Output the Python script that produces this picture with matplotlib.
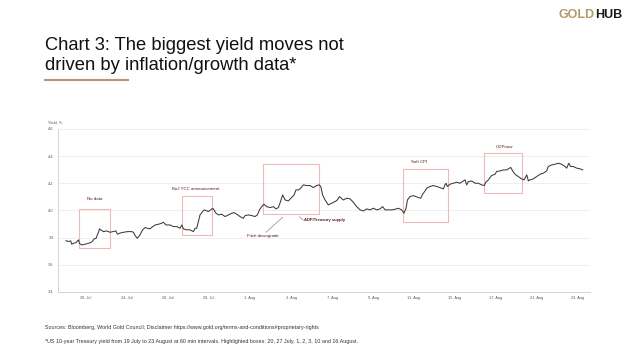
import matplotlib
matplotlib.use("Agg")
import matplotlib.pyplot as plt
from matplotlib.patches import Rectangle

plt.rcParams['font.family'] = ['Liberation Sans', 'DejaVu Sans']

# x = trading-day index (0 = 19 Jul), y = US 10y yield, %
day = [0.02, 0.14, 0.25, 0.30, 0.38, 0.51, 0.58, 0.64, 0.67, 0.79, 0.95, 1.11, 1.23, 1.33,
       1.39, 1.49, 1.55, 1.62, 1.65, 1.72, 1.85, 2.01, 2.17, 2.30, 2.46, 2.53, 2.63, 2.82,
       3.02, 3.23, 3.31, 3.39, 3.50, 3.63, 3.76, 3.88, 3.99, 4.12, 4.25, 4.37, 4.53, 4.69,
       4.77, 4.90, 5.10, 5.26, 5.42, 5.59, 5.67, 5.75, 5.91, 6.07, 6.24, 6.32, 6.40, 6.48,
       6.56, 6.69, 6.76, 6.85, 6.97, 7.08, 7.18, 7.24, 7.34, 7.46, 7.62, 7.78, 7.94, 8.11,
       8.22, 8.35, 8.51, 8.67, 8.76, 8.92, 9.08, 9.24, 9.36, 9.46, 9.57, 9.68, 9.81, 9.98,
       10.14, 10.27, 10.38, 10.46, 10.59, 10.71, 10.87, 11.03, 11.15, 11.24, 11.36, 11.47,
       11.60, 11.76, 11.93, 12.09, 12.25, 12.38, 12.45, 12.54, 12.66, 12.82, 12.98, 13.15,
       13.26, 13.36, 13.55, 13.72, 13.88, 14.04, 14.20, 14.37, 14.53, 14.69, 14.85, 15.02,
       15.18, 15.34, 15.47, 15.59, 15.76, 15.91, 16.08, 16.24, 16.40, 16.51, 16.61, 16.68,
       16.80, 16.97, 17.21, 17.33, 17.42, 17.54, 17.62, 17.78, 17.94, 18.11, 18.27, 18.43,
       18.51, 18.56, 18.63, 18.76, 18.92, 19.08, 19.24, 19.41, 19.49, 19.57, 19.65, 19.81,
       19.98, 20.14, 20.30, 20.42, 20.51, 20.63, 20.71, 20.79, 20.95, 21.03, 21.20, 21.36,
       21.52, 21.60, 21.72, 21.81, 21.93, 22.09, 22.25, 22.37, 22.50, 22.58, 22.66, 22.82,
       22.98, 23.15, 23.31, 23.47, 23.55, 23.72, 23.88, 24.04, 24.20, 24.37, 24.45, 24.55,
       24.64, 24.77, 24.94, 25.10, 25.23]
yield_pct = [3.778, 3.771, 3.776, 3.751, 3.758, 3.763, 3.776, 3.783, 3.758, 3.746, 3.751, 3.758,
             3.763, 3.776, 3.790, 3.795, 3.820, 3.844, 3.864, 3.857, 3.844, 3.849, 3.839, 3.844,
             3.849, 3.825, 3.832, 3.839, 3.844, 3.844, 3.839, 3.815, 3.795, 3.820, 3.857, 3.874,
             3.869, 3.864, 3.881, 3.893, 3.898, 3.906, 3.913, 3.893, 3.893, 3.881, 3.881, 3.869,
             3.893, 3.864, 3.857, 3.857, 3.844, 3.869, 3.869, 3.918, 3.967, 3.992, 4.004, 3.999,
             3.992, 4.004, 4.016, 4.004, 3.979, 3.967, 3.972, 3.955, 3.967, 3.979, 3.984, 3.972,
             3.955, 3.942, 3.962, 3.967, 3.962, 3.955, 3.967, 4.004, 4.028, 4.046, 4.028, 4.021,
             4.028, 4.011, 4.021, 4.053, 4.114, 4.077, 4.070, 4.095, 4.114, 4.151, 4.151, 4.163,
             4.188, 4.183, 4.183, 4.168, 4.183, 4.188, 4.176, 4.114, 4.077, 4.041, 4.053, 4.065,
             4.077, 4.102, 4.077, 4.090, 4.085, 4.060, 4.028, 4.004, 3.996, 4.011, 4.004, 4.016,
             4.004, 4.011, 4.028, 4.004, 4.004, 4.004, 4.009, 4.016, 4.004, 3.979, 4.016, 4.077,
             4.102, 4.109, 4.095, 4.090, 4.119, 4.144, 4.163, 4.176, 4.183, 4.176, 4.168, 4.158,
             4.188, 4.200, 4.176, 4.193, 4.200, 4.208, 4.200, 4.217, 4.225, 4.188, 4.212, 4.217,
             4.200, 4.200, 4.188, 4.183, 4.208, 4.225, 4.242, 4.257, 4.266, 4.286, 4.291, 4.298,
             4.298, 4.306, 4.316, 4.291, 4.266, 4.249, 4.232, 4.225, 4.262, 4.217, 4.225, 4.232,
             4.249, 4.266, 4.274, 4.291, 4.323, 4.335, 4.340, 4.347, 4.340, 4.323, 4.311, 4.347,
             4.323, 4.323, 4.311, 4.306, 4.298]

tick_pos = [1, 3, 5, 7, 9, 11, 13, 15, 17, 19, 21, 23, 25]
tick_labels = ["20. Jul", "24. Jul", "26. Jul", "28. Jul", "1. Aug", "3. Aug", "7. Aug",
               "9. Aug", "11. Aug", "15. Aug", "17. Aug", "21. Aug", "23. Aug"]
y_ticks = [3.4, 3.6, 3.8, 4.0, 4.2, 4.4, 4.6]

# highlighted boxes: (x0, x1, y0, y1)
boxes = [(0.67, 2.19, 3.722, 4.009),
         (5.67, 7.16, 3.820, 4.109),
         (9.65, 12.38, 3.977, 4.340),
         (16.48, 18.66, 3.918, 4.303),
         (20.40, 22.29, 4.129, 4.421)]

labels = [("No data", 1.44, 4.082),
          ("BoJ YCC announcement", 6.33, 4.154),
          ("Fitch downgrade", 9.65, 3.810),
          ("Soft CPI", 17.23, 4.355),
          ("GDPnow", 21.41, 4.465)]

gold = "#b39b69"
maroon = "#5c1a2a"
box_col = "#f2b8b8"
grey = "#8a8a8a"

fig = plt.figure(figsize=(6.4, 3.6), dpi=100)
ax = fig.add_axes([0.0906, 0.189, 0.8314, 0.453])

ax.plot(day, yield_pct, color="#3a3a3a", lw=0.75)

for x0, x1, y0, y1 in boxes:
    ax.add_patch(Rectangle((x0, y0), x1 - x0, y1 - y0, fill=False,
                           edgecolor=box_col, lw=0.8))

for txt, x, y in labels:
    ax.text(x, y, txt, fontsize=3.2, color=maroon, ha="center", va="center")

# Fitch pointer and Treasury supply label
ax.plot([9.78, 10.59], [3.839, 3.950], color=grey, lw=0.5)
ax.plot([11.41, 11.60], [3.952, 3.928], color=grey, lw=0.5)
ax.text(11.65, 3.933, "ADP/Treasury supply", fontsize=3.0, color=maroon,
        fontweight="bold", ha="left", va="center")

ax.set_xlim(-0.37, 25.59)
ax.set_ylim(3.4, 4.6)
ax.set_yticks(y_ticks)
ax.set_yticklabels([f"{v:.1f}" for v in y_ticks])
ax.set_xticks(tick_pos)
ax.set_xticklabels(tick_labels)
ax.tick_params(axis="both", length=0, labelsize=2.8, labelcolor="#555555", pad=3)
ax.grid(axis="y", color="#ececec", lw=0.6)
ax.set_axisbelow(True)
for s in ["top", "right"]:
    ax.spines[s].set_visible(False)
for s in ["left", "bottom"]:
    ax.spines[s].set_color("#cccccc")
    ax.spines[s].set_linewidth(0.6)
ax.text(-0.019, 1.025, "Yield, %", transform=ax.transAxes, fontsize=2.9,
        color="#555555", ha="left", va="bottom")

# title block
fig.text(45 / 640, 1 - 45 / 360, "Chart 3: The biggest yield moves not", fontsize=13.2,
         color="#111111", ha="left", va="center")
fig.text(45 / 640, 1 - 65 / 360, "driven by inflation/growth data*", fontsize=13.2,
         color="#111111", ha="left", va="center")
fig.add_artist(plt.Line2D([45 / 640, 128 / 640], [1 - 80 / 360, 1 - 80 / 360],
                          color=gold, lw=1.5, transform=fig.transFigure))

# logo
hub = fig.text(622 / 640, 1 - 15 / 360, "HUB", fontsize=9, fontweight="bold",
               color="#1a1a1a", ha="right", va="center")
fig.canvas.draw()
bb = hub.get_window_extent(fig.canvas.get_renderer())
fig.text(bb.x0 / fig.bbox.width, 1 - 15 / 360, "GOLD", fontsize=9, fontweight="bold",
         color=gold, ha="right", va="center")

# footnotes
fig.text(45 / 640, 1 - 327 / 360,
         "Sources: Bloomberg, World Gold Council; Disclaimer "
         "https://www.gold.org/terms-and-conditions#proprietary-rights",
         fontsize=3.85, color="#333333", ha="left", va="center")
fig.text(45 / 640, 1 - 341 / 360,
         "*US 10-year Treasury yield from 19 July to 23 August at 60 min intervals. "
         "Highlighted boxes: 20, 27 July, 1, 2, 3, 10 and 16 August.",
         fontsize=3.85, color="#333333", ha="left", va="center")

fig.savefig("out.png", dpi=100)
